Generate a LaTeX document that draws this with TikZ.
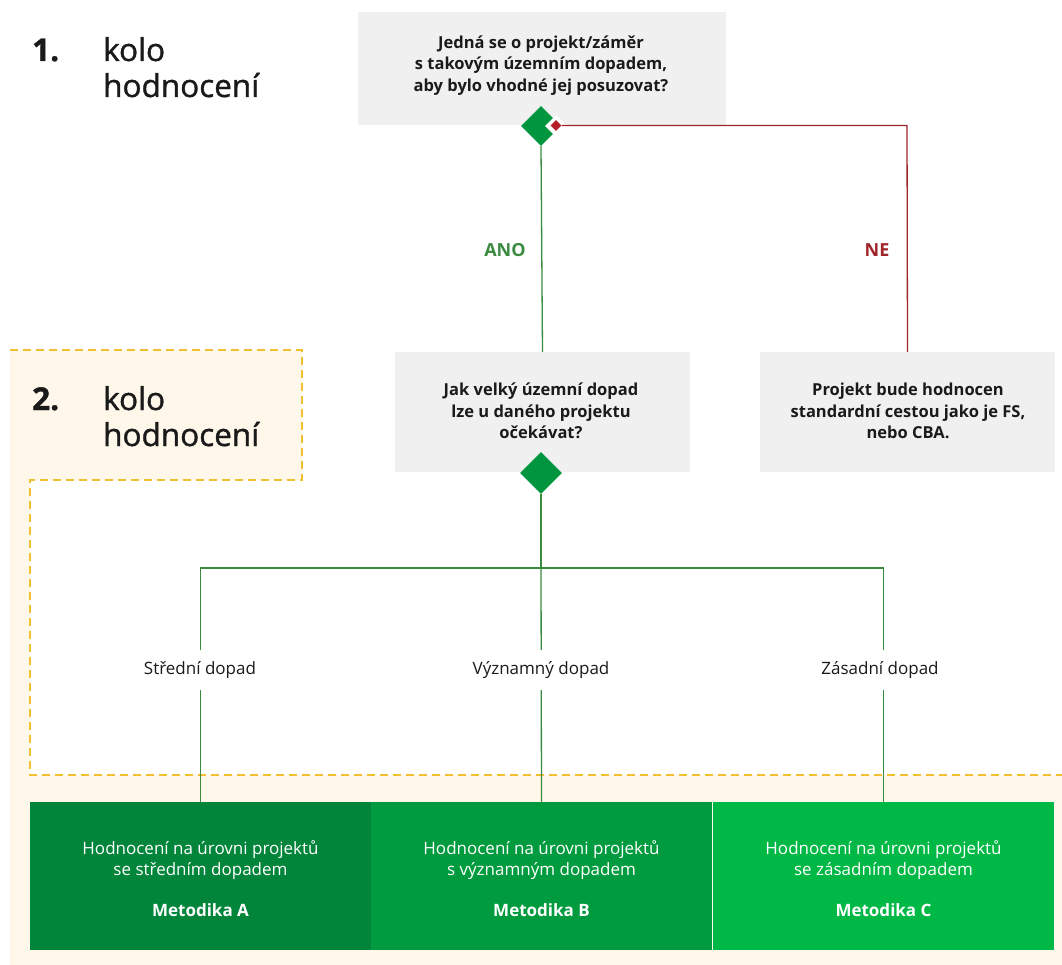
\documentclass[tikz,border=0pt]{standalone}
\usepackage{fontspec}
\setmainfont{Open Sans}
\newfontfamily\semib{Open Sans}[FakeBold=1.2]
\usetikzlibrary{shapes.geometric}
\definecolor{boxgray}{HTML}{F0F0F0}
\definecolor{cream}{HTML}{FEF7EA}
\definecolor{dashy}{HTML}{F0C030}
\definecolor{lineg}{HTML}{3A8A3F}
\definecolor{liner}{HTML}{A0252A}
\definecolor{dmdgreen}{HTML}{009640}
\definecolor{dmdred}{HTML}{B3202A}
\definecolor{greenA}{HTML}{00853A}
\definecolor{greenB}{HTML}{009B3E}
\definecolor{greenC}{HTML}{00B845}
\definecolor{txt}{HTML}{1A1A1A}
\tikzset{
  qbox/.style={rectangle, fill=boxgray, inner sep=0pt, text=txt, align=center,
    font=\bfseries\fontsize{16.5}{21.7}\selectfont},
  gline/.style={draw=lineg, line width=1.3pt},
  rline/.style={draw=liner, line width=1.3pt},
  dmd/.style={diamond, aspect=1, inner sep=0pt},
  mbox/.style={rectangle, inner sep=0pt, minimum width=341, minimum height=148,
    text=white, align=center, font=\fontsize{17}{20.5}\selectfont},
  lbl/.style={fill=white, inner sep=0pt, minimum height=40, text=txt,
    font=\fontsize{17}{18}\selectfont},
  ttl/.style={anchor=base west, inner sep=0pt, text=txt, font=\semib\fontsize{31.5}{36}\selectfont},
  yn/.style={font=\bfseries\fontsize{18}{20}\selectfont}
}
\begin{document}
\begin{tikzpicture}[x=1pt,y=-1pt]
\useasboundingbox (0,0) rectangle (1062,965);
% cream region with dashed border
\fill[cream] (10,350) -- (302,350) -- (302,480) -- (30,480) -- (30,775) -- (1062,775) -- (1062,965) -- (10,965) -- cycle;
\draw[dashy, line width=1.4pt, dash pattern=on 8pt off 5pt] (10,350) -- (302,350) -- (302,480) -- (30,480) -- (30,775) -- (1062,775);

% titles
\node[ttl] (t1n) at (32,61) {\bfseries 1.};
\node[ttl] (t1a) at (103,61) {kolo};
\node[ttl] (t1b) at (103,97) {hodnocení};
\node[ttl] (t2n) at (32,410) {\bfseries 2.};
\node[ttl] (t2a) at (103,410) {kolo};
\node[ttl] (t2b) at (103,446) {hodnocení};

% question boxes
\node[qbox, minimum width=368, minimum height=113] (q1) at (542,68.5) {};
\node[qbox] (q1t) at (541,65.5) {Jedná se o projekt/záměr\\s takovým územním dopadem,\\aby bylo vhodné jej posuzovat?};
\node[qbox, minimum width=295, minimum height=120] (q2) at (542.5,412) {};
\node[qbox] (q2t) at (541,411) {Jak velký územní dopad\\lze u daného projektu\\očekávat?};
\node[qbox, minimum width=295, minimum height=120] (q3) at (907.5,412) {};
\node[qbox] (q3t) at (908,411) {Projekt bude hodnocen\\standardní cestou jako je FS,\\nebo CBA.};

% bottom method boxes
\node[mbox, fill=greenA] (mA) at (200.5,876) {};
\node[mbox, fill=greenB] (mB) at (541.5,876) {};
\node[mbox, fill=greenC] (mC) at (883.5,876) {};
\node[mbox, minimum height=0pt] (mAt) at (200.5,879) {Hodnocení na úrovni projektů\\se středním dopadem\\[21pt]\textbf{Metodika A}};
\node[mbox, minimum height=0pt] (mBt) at (541.5,879) {Hodnocení na úrovni projektů\\s významným dopadem\\[21pt]\textbf{Metodika B}};
\node[mbox, minimum height=0pt] (mCt) at (883.5,879) {Hodnocení na úrovni projektů\\se zásadním dopadem\\[21pt]\textbf{Metodika C}};

% diamonds
\node[dmd, fill=dmdgreen, minimum width=40, minimum height=40] (d1) at (541,126) {};
\node[dmd, fill=white, minimum width=22, minimum height=22] (d1w) at (556,126) {};
\node[dmd, fill=dmdred, minimum width=11, minimum height=11] (d1r) at (556,125.5) {};
\node[dmd, fill=dmdgreen, minimum width=42, minimum height=42] (d2) at (541,473) {};

% connectors
\draw[gline] (d1.south) -- (q2.north);
\draw[rline] (d1r.east) -- (907,125.5) coordinate (rc) -- (q3.north);
\coordinate (j) at (541,568);
\draw[gline] (d2.south) -- (j);
\draw[gline] (j) -| (mA.north);
\draw[gline] (j) -| (mC.north);
\draw[gline] (j) -- (mB.north);

% labels
\node[yn, text=lineg] (ano) at (505,250) {ANO};
\node[yn, text=liner] (ne) at (877,250) {NE};
\node[lbl] (l1) at (200,670) {Střední dopad};
\node[lbl] (l2) at (541,670) {Významný dopad};
\node[lbl] (l3) at (880,670) {Zásadní dopad};
\end{tikzpicture}
\end{document}
